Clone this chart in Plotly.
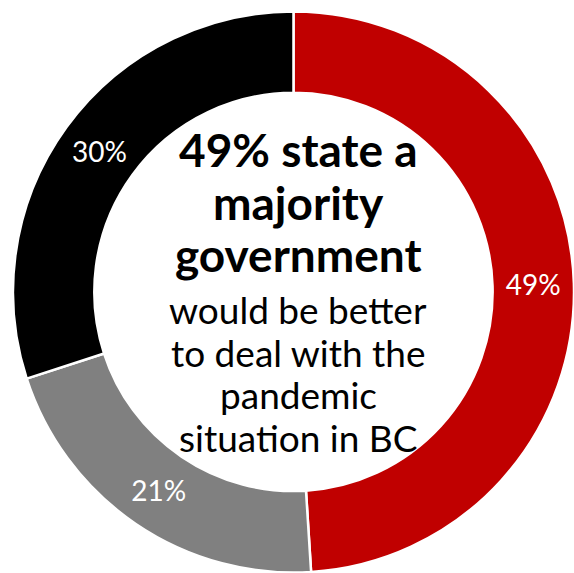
import plotly.graph_objects as go

# Survey response shares, clockwise from 12 o'clock
segments = ["Majority government better", "Other", "Minority government better"]
shares = [49, 21, 30]
slice_colors = ["#C00000", "#808080", "#000000"]

headline_lines = ["49% state a", "majority", "government"]
detail_lines = ["would be better", "to deal with the", "pandemic", "situation in BC"]

W, H = 574, 573
FONT = "Lato"

fig = go.Figure(
    go.Pie(
        labels=segments,
        values=shares,
        hole=0.71,
        sort=False,
        direction="clockwise",
        rotation=0,
        marker=dict(colors=slice_colors, line=dict(color="white", width=2.5)),
        texttemplate="%{value}%",
        textposition="inside",
        insidetextorientation="horizontal",
        textfont=dict(family=FONT, size=28, color="white"),
        showlegend=False,
        hoverinfo="label+percent",
        domain=dict(x=[0.0226, 1.0], y=[0.0, 0.981]),
    )
)


def add_lines(lines, first_baseline, spacing, size, weight):
    """Stack centred text lines with a fixed baseline-to-baseline spacing (px)."""
    for i, line in enumerate(lines):
        baseline = first_baseline + i * spacing
        centre_px = baseline - 0.33 * size
        fig.add_annotation(
            text=line,
            x=0.52, y=1 - centre_px / H,
            xref="paper", yref="paper",
            xanchor="center", yanchor="middle",
            showarrow=False,
            font=dict(family=FONT, size=size, color="black", weight=weight),
        )


add_lines(headline_lines, 165, 52.5, 46, "bold")
add_lines(detail_lines, 322, 42.5, 37, "normal")

fig.update_layout(
    width=W,
    height=H,
    margin=dict(l=0, r=0, t=0, b=0),
    paper_bgcolor="white",
    plot_bgcolor="white",
    uniformtext=dict(minsize=28, mode="show"),
)

fig.write_html("out.html")
